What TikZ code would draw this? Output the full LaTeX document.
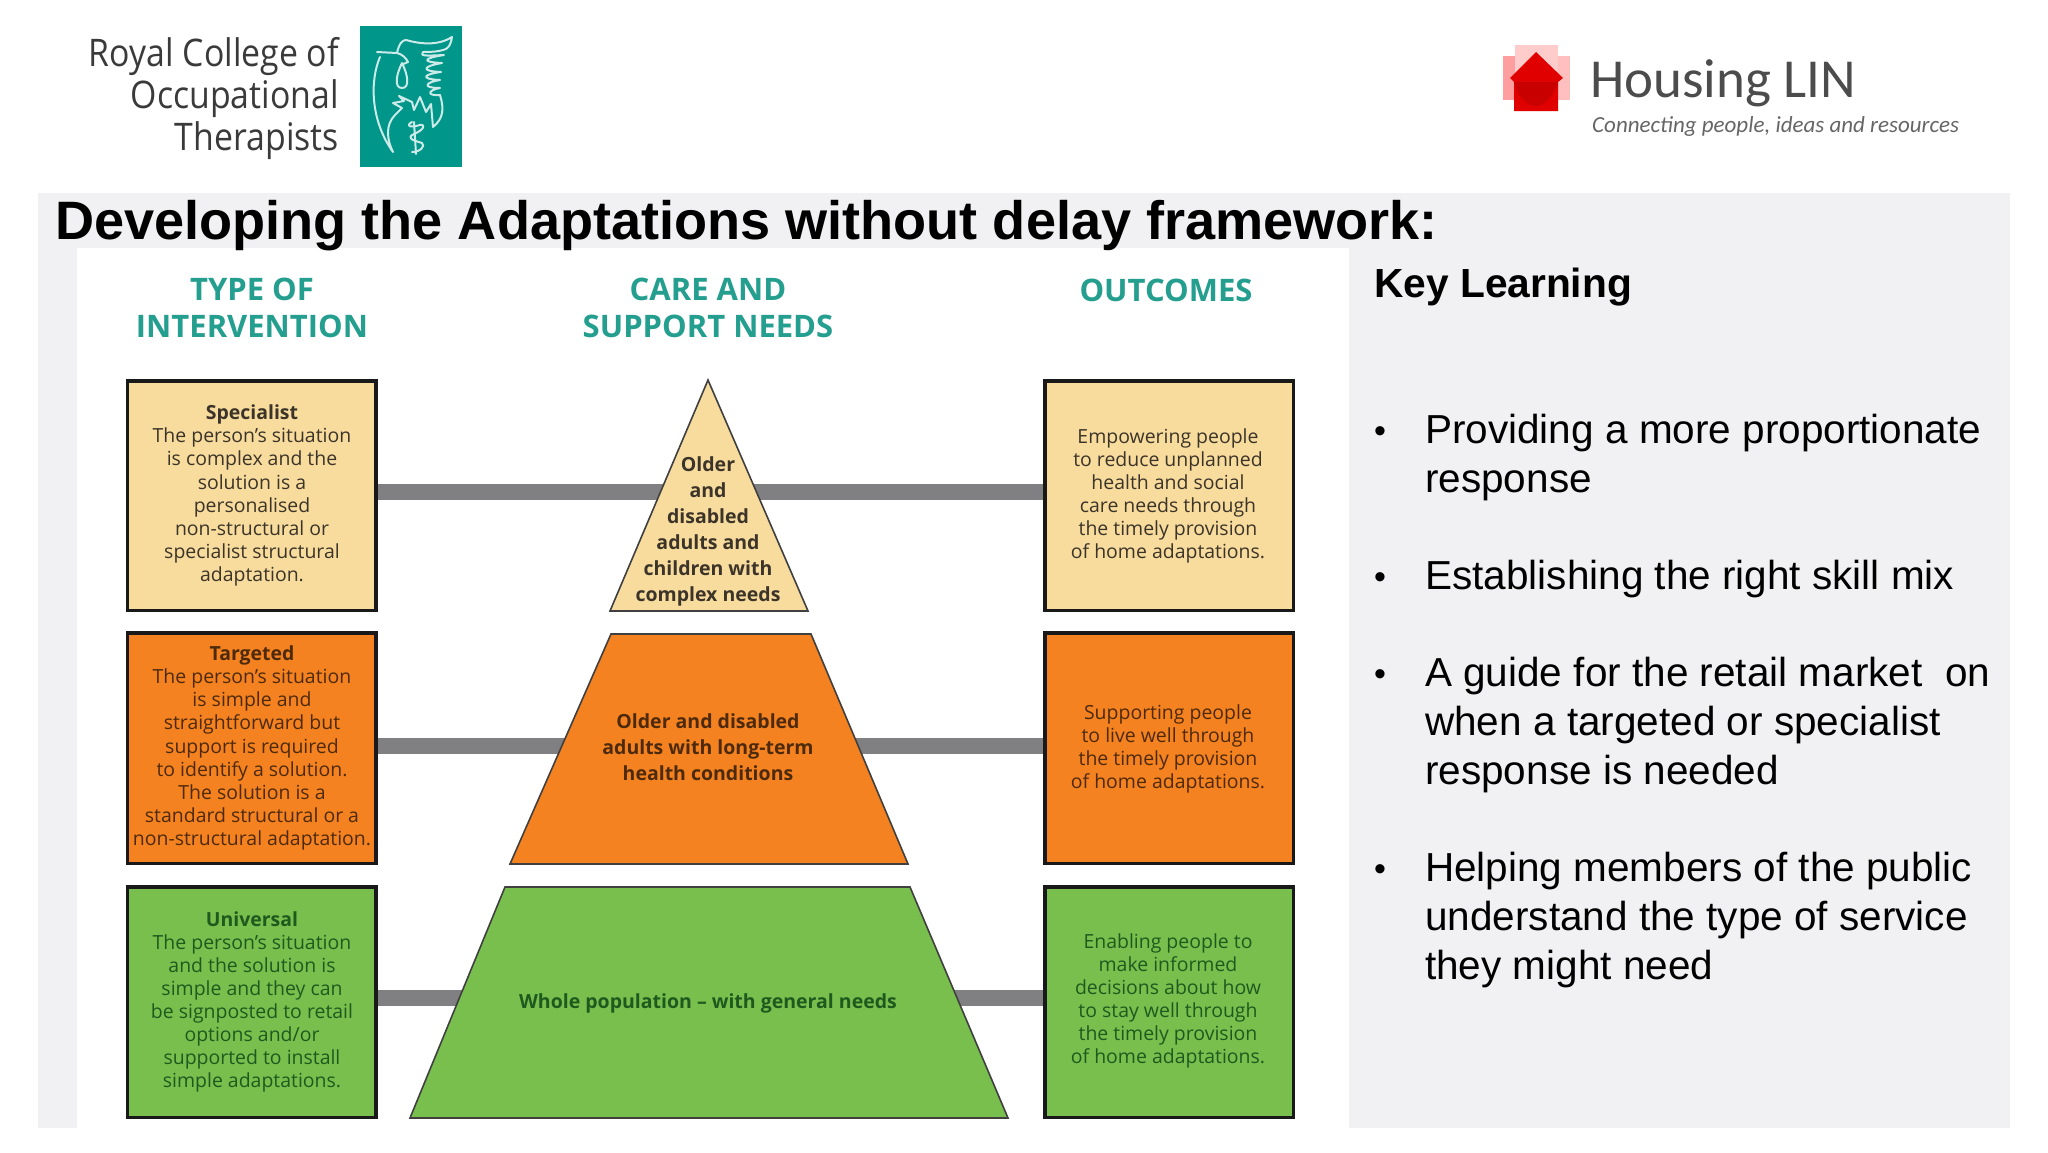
\documentclass[tikz,border=0pt]{standalone}
\usepackage{fontspec}
\setmainfont{Liberation Sans}
\newfontfamily\os{Open Sans}
\newfontfamily\oslogo[FakeStretch=0.89]{Open Sans}
\newfontfamily\cb{Carlito}
\usetikzlibrary{calc}
\definecolor{panel}{HTML}{F1F1F3}
\definecolor{cream}{HTML}{F7DC9E}
\definecolor{orng}{HTML}{F58220}
\definecolor{grn}{HTML}{79BF4E}
\definecolor{teal1}{HTML}{00968A}
\definecolor{headc}{HTML}{249E8E}
\definecolor{barc}{HTML}{808083}
\definecolor{creamtx}{HTML}{3C3428}
\definecolor{orngtx}{HTML}{4E2A0C}
\definecolor{grntx}{HTML}{1E5A1E}
\definecolor{logotx}{HTML}{3A3A3A}
\tikzset{
  x=1pt,y=-1pt,
  box/.style={draw=black!90,line width=3.4pt,minimum width=248.5pt,inner sep=0pt,outer sep=0pt,anchor=north west},
  pyr/.style={draw=black!75,line width=1.6pt,line join=miter},
  bar/.style={draw=barc,line width=16pt,shorten >=1.7pt,shorten <=1.7pt},
  boxtx/.style={align=center,inner sep=0pt,font=\os\fontsize{19.45}{23.1}\selectfont},
  pyrtx/.style={align=center,inner sep=0pt,font=\os\bfseries\fontsize{19.5}{26}\selectfont},
  headtx/.style={align=center,inner sep=0pt,text=headc,font=\os\bfseries\fontsize{31}{36.5}\selectfont},
  bultx/.style={align=left,anchor=west,inner sep=0pt,font=\fontsize{40.5}{49}\selectfont},
  bul/.style={inner sep=0pt,font=\fontsize{34}{34}\selectfont},
  logol/.style={anchor=east,inner sep=0pt,text=logotx,font=\oslogo\fontsize{38}{38}\selectfont},
  bird/.style={draw=white!80!teal1,line width=2pt,line cap=round,line join=round}
}
\begin{document}
\begin{tikzpicture}
\useasboundingbox (0,0) rectangle (2048,1152);
\fill[white] (0,0) rectangle (2048,1152);
\fill[panel] (38,193) rectangle (2010,1128);
\fill[white] (77,248) rectangle (1349,1128);

% logos
\node[logol] (rcot1) at (339,57) {Royal College of};
\node[logol] (rcot2) at (339,99) {Occupational};
\node[logol] (rcot3) at (339,141) {Therapists};
\fill[teal1] (360,26) rectangle (462,167);
% head, body and tail
\draw[bird] (377,52) -- (397,53) .. controls (402,54) and (406,58) .. (408,62) -- (401,65);
\draw[bird] (380,57) .. controls (370,80) and (370,120) .. (393,152) .. controls (387,140) and (385,125) .. (395,115);
% wing
\draw[bird] (397,53) .. controls (399,44) and (402,40) .. (406,40) .. controls (420,44) and (438,46) .. (452,37) .. controls (451,44) and (449,47) .. (446,49) .. controls (438,52) and (430,52) .. (423,52);
\draw[bird] (423,52) .. controls (420,56) and (424,56) .. (444,55) .. controls (424,58) and (420,62) .. (442,63) .. controls (424,66) and (419,71) .. (441,72) .. controls (424,74) and (419,79) .. (440,80) .. controls (426,82) and (421,88) .. (440,88) .. controls (428,90) and (426,96) .. (440,95);
\draw[bird] (440,95) .. controls (444,108) and (444,118) .. (433,127);
% drop
\draw[bird] (402,63) .. controls (396,75) and (394,88) .. (402,88) .. controls (410,88) and (408,75) .. (402,63);
% lower plumage
\draw[bird] (395,115) -- (402,108) -- (393,103) -- (404,101) -- (399,96) -- (412,102) -- (414,110) -- (420,97) -- (426,112) -- (431,104) -- (433,127);
% serpent
\draw[bird] (412,122) .. controls (405,126) and (410,128) .. (420,125) .. controls (426,124) and (424,130) .. (414,134) .. controls (406,138) and (412,140) .. (422,143) .. controls (426,146) and (420,152) .. (412,152);
\draw[bird] (414,122) -- (416,154);

\fill[red!25!white] (1503,56) rectangle (1570,100);
\fill[red!20!white] (1515,45) rectangle (1558,111);
\fill[red!38!white] (1503,56) rectangle (1515,100);
\fill[red!88!black] (1536,52) -- (1563,78) -- (1558,82) -- (1558,111) -- (1514,111) -- (1514,82) -- (1510,78) -- cycle;
\fill[red!65!black,opacity=.4] (1514,82) -- (1558,82) .. controls (1552,100) and (1542,106) .. (1536,106) .. controls (1528,106) and (1518,98) .. (1514,82) -- cycle;
\node[anchor=west,inner sep=0pt,text=black!70,font=\cb\fontsize{55}{55}\selectfont] (hlin) at (1590,83) {Housing LIN};
\node[anchor=west,inner sep=0pt,text=black!60,font=\cb\itshape\fontsize{23}{23}\selectfont] (htag) at (1592,126) {Connecting people, ideas and resources};

% title
\node[anchor=west,inner sep=0pt,font=\bfseries\fontsize{54.1}{54}\selectfont] (title) at (55,226) {Developing the Adaptations without delay framework:};
\node[anchor=west,inner sep=0pt,font=\bfseries\fontsize{40.7}{40}\selectfont] (key) at (1374,287) {Key Learning};

% heads
\node[headtx] (h1) at (252,308) {TYPE OF\\INTERVENTION};
\node[headtx] (h2) at (708,308) {CARE AND\\SUPPORT NEEDS};
\node[headtx] (h3) at (1166,290) {OUTCOMES};

% boxes
\node[box,fill=cream,minimum height=229.5pt] (ls) at (127.5,381) {};
\node[box,fill=orng,minimum height=230.5pt] (lt) at (127.5,633) {};
\node[box,fill=grn,minimum height=230.5pt] (lu) at (127.5,887) {};
\node[box,fill=cream,minimum height=229.5pt] (rs) at (1045,381) {};
\node[box,fill=orng,minimum height=230.5pt] (rt) at (1045,633) {};
\node[box,fill=grn,minimum height=230.5pt] (ru) at (1045,887) {};

\coordinate (ys) at (0,492);
\coordinate (yt) at (0,746);
\coordinate (yu) at (0,998);
\draw[bar] (ls.east |- ys) -- (rs.west |- ys);
\draw[bar] (lt.east |- yt) -- (rt.west |- yt);
\draw[bar] (lu.east |- yu) -- (ru.west |- yu);

% pyramid
\draw[pyr,fill=cream] (708,380) -- (808,611) -- (610,611) -- cycle;
\draw[pyr,fill=orng] (611,634) -- (811,634) -- (908,864) -- (510,864) -- cycle;
\draw[pyr,fill=grn] (505,887) -- (910,887) -- (1008,1118) -- (410,1118) -- cycle;

\node[pyrtx,text=creamtx] (ps) at (708,531) {Older\\and\\disabled\\adults and\\children with\\complex needs};
\node[pyrtx,text=orngtx] (pt) at (708,747) {Older and disabled\\adults with long-term\\health conditions};
\node[pyrtx,text=grntx] (pu) at (708,1003) {Whole population – with general needs};

\node[boxtx,text=creamtx] (lst) at (252,495.5) {\textbf{Specialist}\\The person’s situation\\is complex and the\\solution is a\\personalised\\non-structural or\\specialist structural\\adaptation.};
\node[boxtx,text=orngtx] (ltt) at (252,748) {\textbf{Targeted}\\The person’s situation\\is simple and\\straightforward but\\support is required\\to identify a solution.\\The solution is a\\standard structural or a\\non-structural adaptation.};
\node[boxtx,text=grntx] (lut) at (252,1002) {\textbf{Universal}\\The person’s situation\\and the solution is\\simple and they can\\be signposted to retail\\options and/or\\supported to install\\simple adaptations.};
\node[boxtx,text=creamtx] (rst) at (1168,496) {Empowering people\\to reduce unplanned\\health and social\\care needs through\\the timely provision\\of home adaptations.};
\node[boxtx,text=orngtx] (rtt) at (1168,749) {Supporting people\\to live well through\\the timely provision\\of home adaptations.};
\node[boxtx,text=grntx] (rut) at (1168,1001) {Enabling people to\\make informed\\decisions about how\\to stay well through\\the timely provision\\of home adaptations.};

% bullets
\node[bultx] (b1) at (1425,457.5) {Providing a more proportionate\\response};
\node[bultx] (b2) at (1425,579) {Establishing the right skill mix};
\node[bultx] (b3) at (1425,724.6) {A guide for the retail market\ \ on\\when a targeted or specialist\\response is needed};
\node[bultx] (b4) at (1425,920) {Helping members of the public\\understand the type of service\\they might need};
\node[bul] (d1) at (1380,435) {•};
\node[bul] (d2) at (1380,581) {•};
\node[bul] (d3) at (1380,678) {•};
\node[bul] (d4) at (1380,873) {•};
\end{tikzpicture}
\end{document}
